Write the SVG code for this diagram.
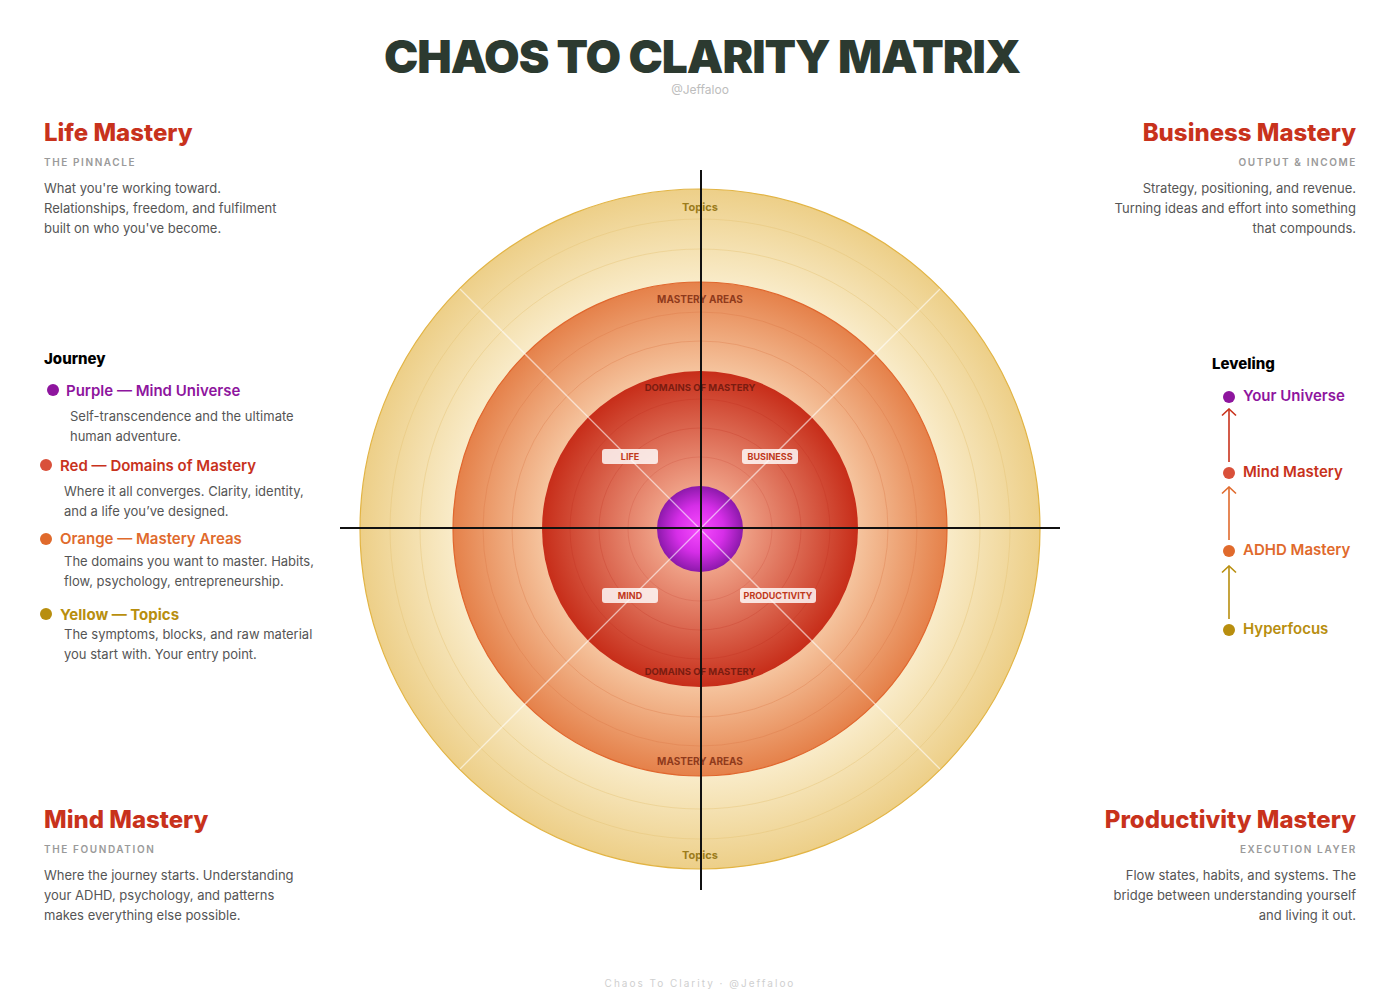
<svg xmlns="http://www.w3.org/2000/svg" width="1400" height="1000" viewBox="0 0 1400 1000">
<defs>
<radialGradient id="gY" gradientUnits="userSpaceOnUse" cx="700" cy="529" r="340">
<stop offset="0.7" stop-color="#faeecf"/><stop offset="1" stop-color="#edcf88"/></radialGradient>
<radialGradient id="gO" gradientUnits="userSpaceOnUse" cx="700" cy="529" r="247">
<stop offset="0.62" stop-color="#f6c7a2"/><stop offset="1" stop-color="#e5814a"/></radialGradient>
<radialGradient id="gR" gradientUnits="userSpaceOnUse" cx="700" cy="529" r="158">
<stop offset="0.25" stop-color="#f0a48a"/><stop offset="1" stop-color="#c72d19"/></radialGradient>
<radialGradient id="gP" gradientUnits="userSpaceOnUse" cx="700" cy="529" r="43">
<stop offset="0" stop-color="#f84cff"/><stop offset="0.55" stop-color="#d62ee8"/><stop offset="1" stop-color="#8c19ab"/></radialGradient>
<marker id="chev" viewBox="0 0 10 16" refX="8.5" refY="8" markerWidth="10" markerHeight="16" markerUnits="userSpaceOnUse" orient="auto">
<path d="M2 1 L8.5 8 L2 15" fill="none" stroke="context-stroke" stroke-width="1.6"/></marker>
</defs>
<style>
text{font-family:Inter,"Noto Sans","Liberation Sans",sans-serif}
.h{font-size:24px;font-weight:800;fill:#c8321c}
.sub{font-size:10px;font-weight:600;fill:#9a9a9a;letter-spacing:1.6px}
.body{font-size:13px;fill:#555}
.ring{fill:none;stroke-width:1}
.pill{fill:#fff;fill-opacity:0.82}
.pt{font-size:9px;font-weight:700;fill:#c0391b;text-anchor:middle}
.lbl{font-size:10px;font-weight:700;text-anchor:middle}
.lg{font-size:15px;font-weight:600}
.diag{stroke:#fff;stroke-opacity:0.6;stroke-width:1.3}
.axis{stroke:#111;stroke-width:2}
</style>
<rect width="1400" height="1000" fill="#fff"/>

<g id="title">
<text x="702" y="73" text-anchor="middle" style="font-size:46px;font-weight:900;fill:#2c3a30;letter-spacing:-1px">CHAOS TO CLARITY MATRIX</text>
<text x="700" y="94" text-anchor="middle" style="font-size:12px;fill:#bdbdbd">@Jeffaloo</text>
</g>

<g id="matrix">
<circle cx="700" cy="529" r="340" fill="url(#gY)" stroke="#e2b444" stroke-width="1.2"/>
<circle class="ring" cx="700" cy="529" r="310" stroke="#e3c070" stroke-opacity="0.4"/>
<circle class="ring" cx="700" cy="529" r="280" stroke="#e3c070" stroke-opacity="0.4"/>
<circle cx="700" cy="529" r="247" fill="url(#gO)" stroke="#e0672e" stroke-width="1.2"/>
<circle class="ring" cx="700" cy="529" r="217" stroke="#d8703e" stroke-opacity="0.3"/>
<circle class="ring" cx="700" cy="529" r="188" stroke="#d8703e" stroke-opacity="0.3"/>
<circle cx="700" cy="529" r="158" fill="url(#gR)"/>
<circle class="ring" cx="700" cy="529" r="130" stroke="#b82414" stroke-opacity="0.2"/>
<circle class="ring" cx="700" cy="529" r="101" stroke="#b82414" stroke-opacity="0.2"/>
<circle class="ring" cx="700" cy="529" r="72" stroke="#b82414" stroke-opacity="0.15"/>
<circle cx="700" cy="529" r="43" fill="url(#gP)"/>
<line class="diag" x1="460" y1="289" x2="940" y2="769"/>
<line class="diag" x1="940" y1="289" x2="460" y2="769"/>
<text class="lbl" x="700" y="211" style="font-size:11px;fill:#9c7c1c">Topics</text>
<text class="lbl" x="700" y="303" style="fill:#8f3a1c">MASTERY AREAS</text>
<text class="lbl" x="700" y="391" style="fill:#7a1c10;font-size:9.5px">DOMAINS OF MASTERY</text>
<text class="lbl" x="700" y="675" style="fill:#7a1c10;font-size:9.5px">DOMAINS OF MASTERY</text>
<text class="lbl" x="700" y="765" style="fill:#8f3a1c">MASTERY AREAS</text>
<text class="lbl" x="700" y="859" style="font-size:11px;fill:#9c7c1c">Topics</text>
</g>

<g id="q-life"><rect class="pill" x="602" y="449" width="56" height="15" rx="3"/><text class="pt" x="630" y="460">LIFE</text></g>
<g id="q-business"><rect class="pill" x="742" y="449" width="56" height="15" rx="3"/><text class="pt" x="770" y="460">BUSINESS</text></g>
<g id="q-mind"><rect class="pill" x="602" y="588" width="56" height="15" rx="3"/><text class="pt" x="630" y="599">MIND</text></g>
<g id="q-productivity"><rect class="pill" x="740" y="588" width="76" height="15" rx="3"/><text class="pt" x="778" y="599">PRODUCTIVITY</text></g>

<g id="axes">
<line class="axis" x1="340" y1="528" x2="1060" y2="528"/>
<line class="axis" x1="701" y1="170" x2="701" y2="890"/>
</g>

<g id="life-mastery">
<text class="h" x="44" y="141">Life Mastery</text>
<text class="sub" x="44" y="166">THE PINNACLE</text>
<text class="body" x="44" y="193">What you're working toward.</text>
<text class="body" x="44" y="213">Relationships, freedom, and fulfilment</text>
<text class="body" x="44" y="233">built on who you've become.</text>
</g>

<g id="business-mastery" text-anchor="end">
<text class="h" x="1356" y="141">Business Mastery</text>
<text class="sub" x="1357" y="166">OUTPUT &amp; INCOME</text>
<text class="body" x="1356" y="193">Strategy, positioning, and revenue.</text>
<text class="body" x="1356" y="213">Turning ideas and effort into something</text>
<text class="body" x="1356" y="233">that compounds.</text>
</g>

<g id="mind-mastery">
<text class="h" x="44" y="828">Mind Mastery</text>
<text class="sub" x="44" y="853">THE FOUNDATION</text>
<text class="body" x="44" y="880">Where the journey starts. Understanding</text>
<text class="body" x="44" y="900">your ADHD, psychology, and patterns</text>
<text class="body" x="44" y="920">makes everything else possible.</text>
</g>

<g id="productivity-mastery" text-anchor="end">
<text class="h" x="1356" y="828">Productivity Mastery</text>
<text class="sub" x="1357" y="853">EXECUTION LAYER</text>
<text class="body" x="1356" y="880">Flow states, habits, and systems. The</text>
<text class="body" x="1356" y="900">bridge between understanding yourself</text>
<text class="body" x="1356" y="920">and living it out.</text>
</g>

<g id="journey">
<text x="44" y="364" style="font-size:15px;font-weight:800;fill:#000">Journey</text>
<circle cx="53" cy="390" r="6" fill="#8e159e"/>
<text class="lg" x="66" y="396" fill="#8e159e">Purple — Mind Universe</text>
<text class="body" x="70" y="421">Self-transcendence and the ultimate</text>
<text class="body" x="70" y="441">human adventure.</text>
<circle cx="46" cy="465" r="6" fill="#d9503a"/>
<text class="lg" x="60" y="471" fill="#c8321c">Red — Domains of Mastery</text>
<text class="body" x="64" y="496">Where it all converges. Clarity, identity,</text>
<text class="body" x="64" y="516">and a life you’ve designed.</text>
<circle cx="46" cy="539" r="6" fill="#e06a2c"/>
<text class="lg" x="60" y="544" fill="#e06a2c">Orange — Mastery Areas</text>
<text class="body" x="64" y="566">The domains you want to master. Habits,</text>
<text class="body" x="64" y="586">flow, psychology, entrepreneurship.</text>
<circle cx="46" cy="614" r="6" fill="#b88e0e"/>
<text class="lg" x="60" y="620" fill="#b88e0e" style="font-weight:700">Yellow — Topics</text>
<text class="body" x="64" y="639">The symptoms, blocks, and raw material</text>
<text class="body" x="64" y="659">you start with. Your entry point.</text>
</g>

<g id="leveling">
<text x="1212" y="369" style="font-size:15px;font-weight:800;fill:#000">Leveling</text>
<g id="lv-universe"><circle cx="1229" cy="397" r="6" fill="#8e159e"/><text class="lg" x="1243" y="401" fill="#8e159e">Your Universe</text></g>
<g id="lv-mind"><circle cx="1229" cy="473" r="6" fill="#d9503a"/><text class="lg" x="1243" y="477" fill="#c8321c">Mind Mastery</text></g>
<g id="lv-adhd"><circle cx="1229" cy="551" r="6" fill="#e06a2c"/><text class="lg" x="1243" y="555" fill="#e06a2c">ADHD Mastery</text></g>
<g id="lv-hyper"><circle cx="1229" cy="630" r="6" fill="#b88e0e"/><text class="lg" x="1243" y="634" fill="#b88e0e">Hyperfocus</text></g>
</g>

<g id="connectors" fill="none" stroke-width="1.6">
<line x1="1229" y1="462" x2="1229" y2="409" stroke="#c8321c" marker-end="url(#chev)"/>
<line x1="1229" y1="540" x2="1229" y2="487" stroke="#e06a2c" marker-end="url(#chev)"/>
<line x1="1229" y1="619" x2="1229" y2="566" stroke="#b88e0e" marker-end="url(#chev)"/>
</g>

<g id="footer">
<text x="700" y="987" text-anchor="middle" style="font-size:10px;fill:#cfcfcf;letter-spacing:2px">Chaos To Clarity  ·  @Jeffaloo</text>
</g>
</svg>
